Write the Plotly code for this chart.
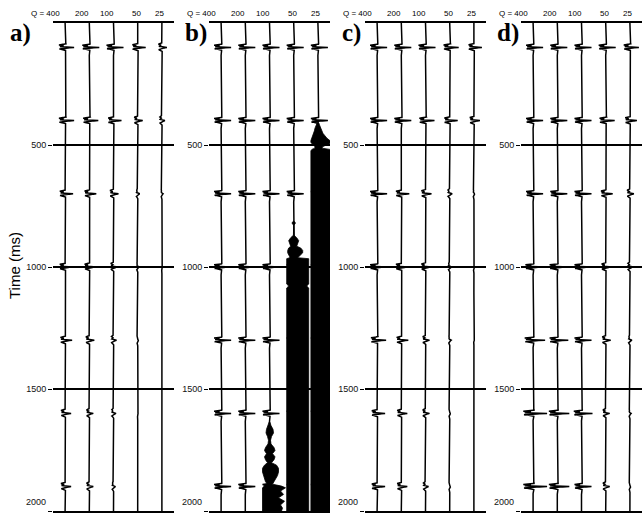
import numpy as np
import plotly.graph_objects as go

# ---------------- data ----------------
panel_labels = ["a)", "b)", "c)", "d)"]
q_labels = ["Q = 400", "200", "100", "50", "25"]
event_times = [100, 400, 700, 1000, 1300, 1600, 1900]      # ms
y_ticks = [500, 1000, 1500, 2000]

# peak wiggle amplitude (pixels) per event (rows) and trace Q (columns)
amp_a = [[9, 10, 10, 8, 5],
         [9, 9, 8, 5, 3],
         [8, 7, 5, 2, 1.2],
         [8, 7, 4, 1.5, 0.6],
         [7, 5, 3, 1, 0.3],
         [6, 4, 2.5, 0.6, 0.2],
         [6, 4, 2, 0.4, 0.1]]
amp_b = [[10, 10, 10, 10, 10],
         [10, 10, 10, 10, 10],
         [10, 10, 10, 10, 10],
         [10, 10, 10, 10, 10],
         [10, 10, 10, 10, 10],
         [10, 10, 10, 10, 10],
         [10, 10, 10, 10, 10]]
amp_c = [[10, 10, 10, 9, 8],
         [10, 10, 9, 8, 6],
         [10, 8, 6, 2.5, 1],
         [10, 8, 6, 2, 0.8],
         [9, 7, 4, 1.5, 0.5],
         [8, 6, 4, 1, 0.3],
         [8, 6, 3, 1, 0.2]]
amp_d = [[10, 10, 10, 10, 9],
         [10, 10, 10, 9, 7],
         [10, 10, 10, 7, 4],
         [11, 11, 10, 6, 3],
         [12, 11, 10, 5, 2],
         [14, 12, 11, 4, 1.2],
         [14, 12, 10, 4, 1]]
amplitudes = [amp_a, amp_b, amp_c, amp_d]

# wavelet template (relative time in ms, normalised deflection)
wave_t = [-18, -13, -9, -6, -3, 0, 3, 6, 9, 13, 18]
wave_v = [0, 0.1, -0.7, -0.15, -0.6, 1.0, -0.1, -0.65, 0.05, 0.05, 0]

# unstable blow-up envelopes in panel b (time ms, left px, right px)
blow_q100_t = [1635, 1650, 1665, 1680, 1695, 1710, 1725, 1740, 1752, 1765, 1778, 1790, 1802,
               1812, 1825, 1840, 1855, 1868, 1880, 1890, 1898, 1905, 1918, 1932, 1946, 1960,
               1975, 1988, 2000]
blow_q100_l = [0.3, 1.5, 3, 3.5, 2, 1, 1.5, 4, 5, 3, 5, 4, 2,
               5, 7, 7, 6, 5, 4, 2, 5, 7, 7, 7, 7, 7,
               7, 7, 7]
blow_q100_r = [0.3, 1.5, 3.5, 4, 2, 1, 1.5, 4.5, 5.5, 3, 5.5, 4.5, 2,
               7, 9, 9, 8, 6, 5, 3, 12, 16, 11, 14, 9, 15,
               11, 13, 12]

blow_q50_t = [812, 817, 823, 828, 870, 880, 892, 905, 915, 922, 932, 942, 952, 958, 962, 966,
              1070, 1078, 1086, 1150, 1160, 2000]
blow_q50_l = [0, 1.5, 1.5, 0, 0.3, 3, 5, 4, 3, 5, 6, 6, 5, 4, 4, 7,
              7, 5, 7, 7, 7, 7]
blow_q50_r = [0, 1.5, 1.5, 0, 0.3, 3, 5, 4, 3, 7, 9, 9, 7, 5, 4, 15,
              15, 13, 15, 15, 15, 15]

blow_q25_t = [402, 412, 422, 432, 442, 452, 462, 472, 482, 490, 498, 506, 513, 518, 524, 2000]
blow_q25_l = [0, 1, 2, 3, 3.5, 4, 5, 6, 7, 7, 5, 3, 3, 6, 7, 7]
blow_q25_r = [0, 1, 2, 3, 4, 5, 7, 9, 12, 13, 10, 5, 4, 12, 15, 15]

blowups = [(3, blow_q100_t, blow_q100_l, blow_q100_r),
           (4, blow_q50_t, blow_q50_l, blow_q50_r),
           (5, blow_q25_t, blow_q25_l, blow_q25_r)]

# ---------------- layout geometry ----------------
W, H = 642, 516
panel_left_px = [53, 209, 365, 521]
panel_w_px = 121
top_px, bot_px = 23, 511
px_per_unit = panel_w_px / 5.0

fig = go.Figure()
t = np.arange(0, 2000.01, 0.5)

for p in range(4):
    ax = "" if p == 0 else str(p + 1)
    amps = amplitudes[p]
    for j in range(5):
        x = np.full_like(t, j + 1, dtype=float)
        for i, te in enumerate(event_times):
            a = amps[i][j]
            s = 1.0 + 1.0 * (1.0 - min(a, 10) / 10.0)   # weak (attenuated) events are broader
            x += (a / px_per_unit) * np.interp((t - te) / s, wave_t, wave_v, left=0, right=0)
        fig.add_trace(go.Scatter(x=x, y=t, mode="lines",
                                 line=dict(color="black", width=1.5),
                                 xaxis="x" + ax, yaxis="y" + ax, hoverinfo="skip"))
    if p == 1:
        for (j, bt, bl, br) in blowups:
            bt = np.array(bt, float)
            xr = j + np.array(br, float) / px_per_unit
            xl = j - np.array(bl, float) / px_per_unit
            fig.add_trace(go.Scatter(x=np.concatenate([xr, xl[::-1]]),
                                     y=np.concatenate([bt, bt[::-1]]),
                                     mode="lines", fill="toself", fillcolor="black",
                                     line=dict(color="black", width=0.8),
                                     xaxis="x2", yaxis="y2", hoverinfo="skip"))

ydom = [(H - bot_px) / H, (H - top_px) / H]
layout = dict(width=W, height=H, margin=dict(l=0, r=0, t=0, b=0),
              paper_bgcolor="white", plot_bgcolor="white", showlegend=False)
for p in range(4):
    ax = "" if p == 0 else str(p + 1)
    L = panel_left_px[p]
    layout["xaxis" + ax] = dict(domain=[L / W, min(1.0, (L + panel_w_px) / W)],
                                range=[0.5, 5.5], showticklabels=False, showgrid=False,
                                zeroline=False, showline=True, mirror=True,
                                linecolor="black", linewidth=1.5, ticks="",
                                anchor="y" + ax, fixedrange=True)
    layout["yaxis" + ax] = dict(domain=ydom, range=[2000, 0], tickvals=y_ticks,
                                ticktext=[str(v) if v < 2000 else "" for v in y_ticks],
                                ticks="outside", ticklen=4, tickwidth=1, tickcolor="black",
                                showgrid=True, gridcolor="black", gridwidth=1.5,
                                zeroline=False, showline=False,
                                tickfont=dict(family="Liberation Sans, Arial", size=9, color="#111"),
                                anchor="x" + ax, fixedrange=True)
fig.update_layout(**layout)

ann = []
q_shift = [-3, 2, 2, 5, 4]
for p in range(4):
    ax = "" if p == 0 else str(p + 1)
    for j in range(5):
        ann.append(dict(x=j + 1, y=1 - 13 / H, xref="x" + ax, yref="paper",
                        text=q_labels[j], showarrow=False, xanchor="right", yanchor="middle",
                        xshift=q_shift[j],
                        font=dict(family="Liberation Sans, Arial", size=8, color="black")))
    # bottom tick label, lifted to stay inside the picture (as in the original)
    ann.append(dict(x=0.5, y=y_ticks[-1], xref="x" + ax, yref="y" + ax,
                    text=str(y_ticks[-1]), showarrow=False, xanchor="right", yanchor="bottom",
                    xshift=-5, yshift=2,
                    font=dict(family="Liberation Sans, Arial", size=9, color="#111")))
    L = panel_left_px[p]
    lx = 20 if p == 0 else L - 13
    ann.append(dict(x=lx / W, y=1 - 33 / H, xref="paper", yref="paper",
                    text="<b>" + panel_labels[p] + "</b>", showarrow=False,
                    xanchor="center", yanchor="middle",
                    font=dict(family="Liberation Serif, Times New Roman", size=25, color="black")))
ann.append(dict(x=14 / W, y=1 - 266 / H, xref="paper", yref="paper", text="Time (ms)",
                textangle=-90, showarrow=False, xanchor="center", yanchor="middle",
                font=dict(family="Liberation Sans, Arial", size=15, color="black")))
fig.update_layout(annotations=ann)

fig.write_html("out.html")
